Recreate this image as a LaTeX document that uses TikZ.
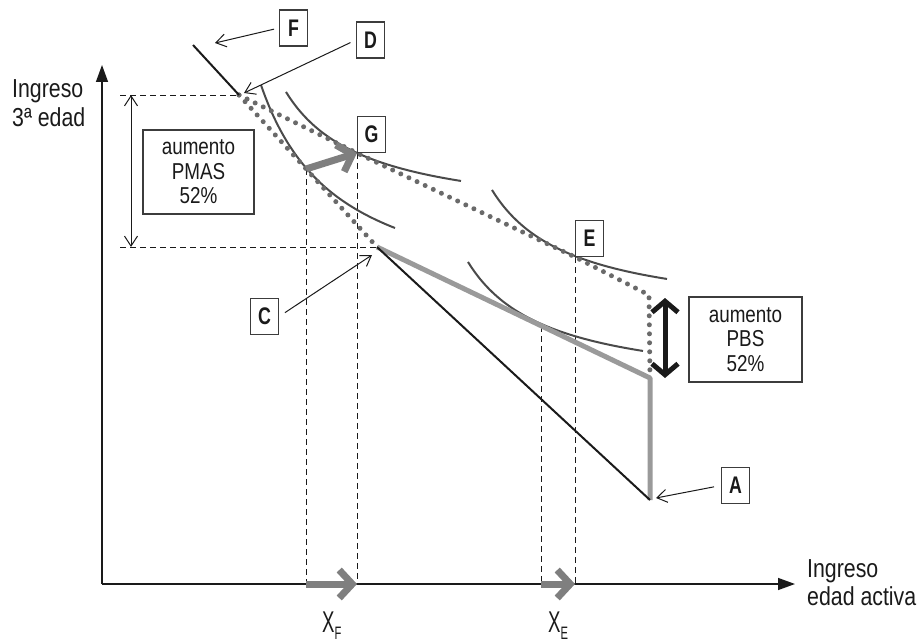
\documentclass[tikz,border=0pt]{standalone}
\usepackage{fontspec}
\setmainfont{Liberation Sans}[FakeStretch=0.82]
\newfontfamily\xfont{Liberation Sans}[FakeStretch=0.62]
\newfontfamily\lblfont{Liberation Sans Bold}[FakeStretch=0.74]
\usetikzlibrary{arrows.meta}
\definecolor{dotgray}{HTML}{6A6A6A}
\definecolor{curvegray}{HTML}{4A4A4A}
\definecolor{linegray}{HTML}{9A9A9A}
\definecolor{arrgray}{HTML}{7F7F7F}
\definecolor{ink}{HTML}{1A1A1A}
\begin{document}
\begin{tikzpicture}[x=1pt,y=-1pt,
 axis/.style={line width=1.4pt, ink, -{Triangle[width=12pt,length=17pt]}},
 guide/.style={line width=1pt, ink, dash pattern=on 6pt off 4pt},
 icurve/.style={line width=2pt, curvegray},
 dots/.style={line width=5pt, dotgray, line cap=round, dash pattern=on 0pt off 9pt},
 budget/.style={line width=2pt, ink},
 gbudget/.style={line width=5pt, linegray},
 shiftarrow/.style={line width=7pt, arrgray, -{Straight Barb[length=13pt,width=28pt]}},
 pointer/.style={line width=1pt, ink, -{Straight Barb[length=10pt,width=13pt]}},
 twohead/.style={line width=1pt, ink, {Straight Barb[length=10pt,width=13pt]}-{Straight Barb[length=10pt,width=13pt]}},
 bighead/.style={line width=5pt, ink, {Straight Barb[length=11pt,width=26pt]}-{Straight Barb[length=11pt,width=26pt]}},
 lbl/.style={draw=ink!85, line width=1.2pt, fill=white, minimum width=28pt, minimum height=36pt, inner sep=0pt, font=\lblfont\fontsize{24}{26}\selectfont, text=ink},
 infobox/.style={draw=ink!85, line width=1.2pt, fill=white, align=center, inner sep=0pt, font=\fontsize{23}{24.5}\selectfont, text=ink},
 axlabel/.style={anchor=base west, inner sep=0pt, font=\fontsize{26}{28}\selectfont, text=ink},
 xlabel/.style={anchor=base west, inner sep=0pt, font=\xfont\fontsize{30}{30}\selectfont, text=ink}
]
\useasboundingbox (0,0) rectangle (924,642);
% key points
\coordinate (O) at (102,584);
\coordinate (Yt) at (102,65);
\coordinate (Xt) at (795,584);
\coordinate (Fs) at (193,45);
\coordinate (K) at (239,95);
\coordinate (C) at (377,247);
\coordinate (A) at (650,500);
\coordinate (B) at (650,378);
\coordinate (P) at (649,295);
\coordinate (G) at (357,153);
\coordinate (E) at (575,257);
\coordinate (T) at (306,169);
\coordinate (L) at (541,326);
\coordinate (hl1) at (120,95);
\coordinate (hl2) at (120,247);
\coordinate (hA) at (131,95);
\coordinate (hB) at (131,247);
\coordinate (vA) at (665,298);
\coordinate (vB) at (665,378);
% guides
\draw[guide] (hl1) -- (K);
\draw[guide] (hl2) -- (C);
\draw[guide] (T) -- (T |- O);
\draw[guide] (G) -- (G |- O);
\draw[guide] (L) -- (L |- O);
\draw[guide] (E) -- (E |- O);
% indifference curves
\draw[icurve] plot[domain=261:395, samples=60] (\x, {310.9-175.51*(100/(\x-183.3))});
\draw[icurve] plot[domain=286:461, samples=60] (\x, {221.6-103.59*(100/(\x-206.1))});
\begin{scope}[shift={(206,98)}]
\draw[icurve] plot[domain=286:461, samples=60] (\x, {221.6-103.59*(100/(\x-206.1))});
\end{scope}
\begin{scope}[shift={(182,170)}]
\draw[icurve] plot[domain=286:461, samples=60] (\x, {221.6-103.59*(100/(\x-206.1))});
\end{scope}
% budget sets
\draw[dots] (K) -- (C);
\draw[dots] (K) -- (G) -- (E) -- (P) -- (B);
\draw[gbudget, line join=round] (C) -- (B) -- (A);
\draw[budget] (C) -- (A);
\draw[budget] (Fs) -- (K);
% axes
\draw[axis] (O) -- (Yt);
\draw[axis] (O) -- (Xt);
% shift arrows
\draw[shiftarrow] (T) -- (G);
\draw[shiftarrow] (T |- O) -- (G |- O);
\draw[shiftarrow] (L |- O) -- (E |- O);
\draw[twohead] (hA) -- (hB);
\draw[bighead] (vA) -- (vB);
% info boxes
\node[infobox, minimum width=111pt, minimum height=84pt] (bPMAS) at (198.5,172) {aumento\\PMAS\\52\%};
\node[infobox, minimum width=113pt, minimum height=85pt] (bPBS) at (745.5,339.5) {aumento\\PBS\\52\%};
% letter labels
\node[lbl] (lF) at (293.5,28) {F};
\coordinate (pF) at (215,43);
\draw[pointer, shorten <=5pt] (lF.west) -- (pF);
\node[lbl] (lD) at (370.5,40) {D};
\coordinate (pD) at (244,93);
\draw[pointer, shorten <=6pt] (lD.west) -- (pD);
\node[lbl, anchor=south west] (lG) at (G) {G};
\node[lbl, anchor=south west] (lE) at (E) {E};
\node[lbl] (lC) at (264.5,316.5) {C};
\coordinate (pC) at (372,255);
\draw[pointer, shorten <=7pt] (lC.east) -- (pC);
\node[lbl] (lA) at (735.5,485.5) {A};
\coordinate (pA) at (656,498);
\draw[pointer, shorten <=7pt] (lA.west) -- (pA);
% axis labels
\node[axlabel] (yl1) at (12,97) {Ingreso};
\node[axlabel] (yl2) at (12,126) {3ª edad};
\node[axlabel] (xl1) at (807,577) {Ingreso};
\node[axlabel] (xl2) at (807,605) {edad activa};
\node[xlabel] (xF) at (322,632) {X\raisebox{-7pt}{\fontsize{18}{18}\selectfont F}};
\node[xlabel] (xE) at (548,632) {X\raisebox{-7pt}{\fontsize{18}{18}\selectfont E}};
\end{tikzpicture}
\end{document}
